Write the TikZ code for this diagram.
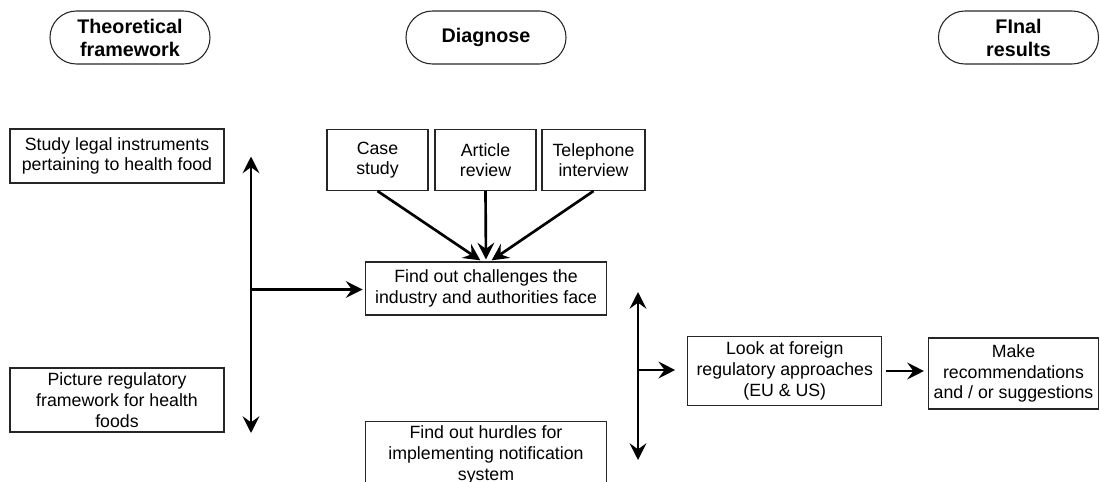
\documentclass[tikz,border=0pt]{standalone}
\usepackage{fontspec}
\setmainfont{Liberation Sans}
\usetikzlibrary{arrows.meta,calc}

\begin{document}
\begin{tikzpicture}[x=0.75pt,y=-0.75pt,
  box/.style={draw=black!85,line width=0.8pt,inner sep=0pt,align=center,
    font=\fontsize{13.3}{15.5}\selectfont},
  phase/.style={draw=black!85,line width=0.8pt,inner sep=0pt,align=center,
    minimum width=120pt,minimum height=39.75pt,rounded corners=19.8pt,
    font=\fontsize{14.8}{17.25}\selectfont\bfseries},
  tip/.tip={Stealth[length=12.5pt,width=12.5pt,inset=4.5pt]},
  arr/.style={line width=2pt,-tip},
  darr/.style={line width=2pt,tip-tip},
]
\useasboundingbox (0,0) rectangle (1100,482);
\clip (0,0) rectangle (1100,482);

% phase headers
\node[phase] (th) at (130,37.5) {Theoretical\\framework};
\node[phase] (dg) at (486,37.5) {Diagnose};
\node[phase] (fr) at (1018.5,37.5) {FInal\\results};

% theoretical framework column
\node[box,minimum width=160.5pt,minimum height=40.5pt] (study) at (117,156)
  {Study legal instruments\\pertaining to health food};
\node[box,minimum width=160.5pt,minimum height=48pt] (picture) at (117,400)
  {Picture regulatory\\framework for health\\foods};

% diagnose column
\node[box,minimum width=75.75pt,minimum height=45.75pt] (case) at (377.5,160) {Case\\study};
\node[box,minimum width=75.75pt,minimum height=45.75pt] (article) at (485.5,160) {Article\\review};
\node[box,minimum width=77.25pt,minimum height=45.75pt] (phone) at (593.5,160) {Telephone\\interview};
\node[box,minimum width=180.4pt,minimum height=39.75pt] (chall) at (486,288.5)
  {Find out challenges the\\industry and authorities face};
\node[box,minimum width=180.4pt,minimum height=50.25pt] (hurdles) at (486,455)
  {Find out hurdles for\\implementing notification\\system};

% final results column
\node[box,minimum width=145.5pt,minimum height=51.75pt] (look) at (784.75,371)
  {Look at foreign\\regulatory approaches\\(EU \& US)};
\node[box,minimum width=127.5pt,minimum height=53.25pt] (make) at (1013.5,373.5)
  {Make\\recommendations\\and / or suggestions};

% left double arrow and branch
\coordinate (ltop) at (251,156.5);
\coordinate (lbot) at (251,433);
\coordinate (ljoin) at (251,289.5);
\draw[darr] (ltop) -- (lbot);
\draw[arr,shorten >=2pt] (ljoin) -- (ljoin -| chall.west);

% methods feeding the challenges box
\draw[arr,shorten >=1.5pt] (case.south) -- ($(chall.north)+(-4,0)$);
\draw[arr,shorten >=1.5pt] (article.south) -- (chall.north);
\draw[arr,shorten >=1.5pt] (phone.south) -- ($(chall.north)+(4,0)$);

% right double arrow and branch
\coordinate (rtop) at (638,292);
\coordinate (rbot) at (638,460);
\coordinate (rjoin) at (638,370);
\draw[darr] (rtop) -- (rbot);
\draw[arr,shorten >=9pt] (rjoin) -- (rjoin -| look.west);

% foreign approaches to recommendations
\draw[arr,shorten <=2.6pt,shorten >=3pt] (look.east) -- (look.east -| make.west);
\end{tikzpicture}
\end{document}
